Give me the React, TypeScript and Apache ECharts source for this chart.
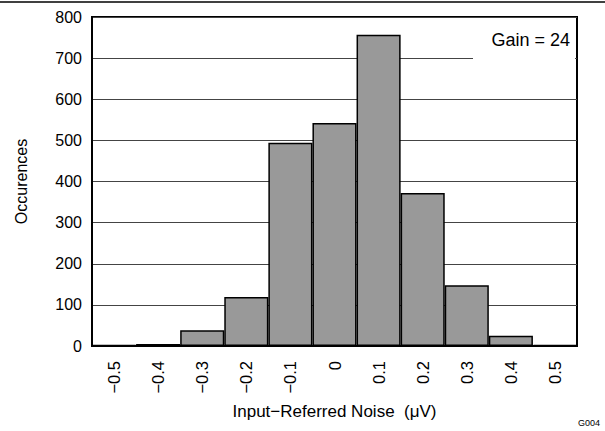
import React, { useEffect, useRef } from "react";
import * as echarts from "echarts";

const categories = ["\u22120.5", "\u22120.4", "\u22120.3", "\u22120.2", "\u22120.1", "0", "0.1", "0.2", "0.3", "0.4", "0.5"];
const occurrences = [2, 5, 38, 119, 494, 542, 757, 372, 148, 25, 3];
const yTicks = { min: 0, max: 800, interval: 100 };

const FONT = "Liberation Sans, Arial, sans-serif";

export default function App() {
  const ref = useRef<HTMLDivElement>(null);
  useEffect(() => {
    const chart = echarts.init(ref.current!, null, { renderer: "svg" });
    chart.setOption({
      animation: false,
      backgroundColor: "#ffffff",
      textStyle: { fontFamily: FONT },
      grid: {
        left: 92,
        right: 28,
        top: 17,
        bottom: 85,
        show: true,
        borderColor: "#000",
        borderWidth: 2,
        backgroundColor: "transparent",
      },
      xAxis: {
        type: "category",
        data: categories,
        boundaryGap: true,
        axisLine: { show: true, lineStyle: { color: "#000", width: 2 } },
        axisTick: { show: false },
        axisLabel: { rotate: 90, fontSize: 16.5, color: "#000", margin: 15, fontFamily: FONT },
        name: "Input\u2212Referred Noise \u00a0(\u03bcV)",
        nameLocation: "middle",
        nameGap: 57,
        nameTextStyle: { fontSize: 17, color: "#000", fontFamily: FONT },
      },
      yAxis: {
        type: "value",
        min: yTicks.min,
        max: yTicks.max,
        interval: yTicks.interval,
        axisLine: { show: true, lineStyle: { color: "#000", width: 2 } },
        axisTick: { show: false },
        axisLabel: { fontSize: 16, color: "#000", margin: 10, fontFamily: FONT },
        splitLine: { show: true, lineStyle: { color: "#444", width: 1 } },
        name: "Occurences",
        nameLocation: "middle",
        nameGap: 63,
        nameTextStyle: { fontSize: 16, color: "#000", fontFamily: FONT },
      },
      series: [
        {
          type: "bar",
          data: occurrences,
          barCategoryGap: "0%",
          itemStyle: { color: "#999999", borderColor: "#000", borderWidth: 1.5 },
        },
      ],
      graphic: [
        { type: "line", z: 100, shape: { x1: 0, y1: 2, x2: 605, y2: 2 }, style: { stroke: "#000", lineWidth: 1.5 } },
        { type: "rect", z: 100, shape: { x: 473, y: 20, width: 102, height: 42 }, style: { fill: "#fff" } },
        {
          type: "text",
          z: 101,
          x: 570,
          y: 40,
          style: { text: "Gain = 24", align: "right", verticalAlign: "middle", fontSize: 18, fill: "#000", fontFamily: FONT },
        },
        {
          type: "text",
          z: 101,
          x: 600,
          y: 423,
          style: { text: "G004", align: "right", verticalAlign: "middle", fontSize: 9, fill: "#000", fontFamily: FONT },
        },
      ],
    });
    return () => chart.dispose();
  }, []);
  return <div ref={ref} style={{ position: "fixed", left: 0, top: 0, width: 605, height: 431 }} />;
}
